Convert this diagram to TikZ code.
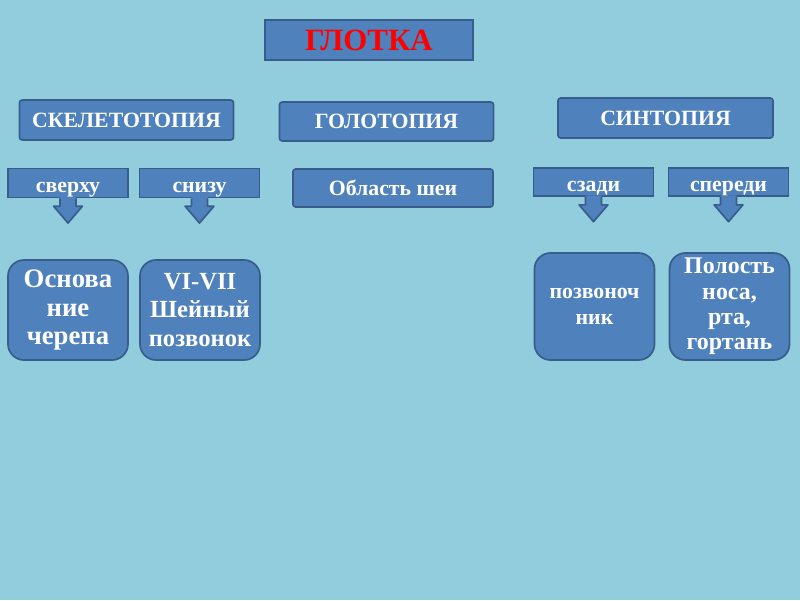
\documentclass[tikz,border=0pt]{standalone}
\usepackage{fontspec}
\setmainfont{Liberation Serif}
\usetikzlibrary{positioning}
\definecolor{bgblue}{RGB}{146,205,221}
\definecolor{boxblue}{RGB}{79,129,189}
\definecolor{edgeblue}{RGB}{56,93,138}
\tikzset{
    box/.style={draw=edgeblue, fill=boxblue, line width=1.2pt, text=white, align=center, inner sep=0pt,
        font=\bfseries\fontsize{15.5}{18}\selectfont}, % every blue box
    title/.style={box, text=red, font=\bfseries\fontsize{22}{26}\selectfont, minimum width=5.2cm, minimum height=1cm},
    header/.style={box, rounded corners=2pt, minimum width=5.35cm, minimum height=1cm},
    tag/.style={box, minimum width=3cm, minimum height=0.72cm, text height=13pt, text depth=0pt}, % box with arrow below
    leaf/.style={box, rounded corners=0.4cm, minimum width=3cm, font=\bfseries\fontsize{17}{18}\selectfont},
}

\begin{document}
\begin{tikzpicture}[x=0.025cm, y=-0.025cm]
    \fill[bgblue] (0,0) rectangle (800,600);
    \useasboundingbox (0,0) rectangle (800,600);

    \node[title] (pharynx) at (369,40) {ГЛОТКА};

    \node[header] (skel) at (126.5,120) {СКЕЛЕТОТОПИЯ};
    \node[header, minimum height=0.975cm] (holo) at (386.5,121.5) {ГОЛОТОПИЯ};
    \node[header, minimum width=5.375cm] (synt) at (665.5,118) {СИНТОПИЯ};

    \node[tag] (up) at (68,183) {сверху};
    \node[tag] (down) at (199.5,183) {снизу};
    \node[box, rounded corners=2pt, minimum width=5cm, minimum height=0.95cm] (neck) at (393,188) {Область шеи};
    \node[tag, minimum height=0.7cm] (back) at (593.5,182) {сзади};
    \node[tag, minimum height=0.7cm] (front) at (728.5,182) {спереди};

    % arrows under the tag boxes
    \foreach \n in {up, down, back, front} {
        \fill[boxblue] ([xshift=-0.2cm, yshift=1pt]\n.south) -- ++(0,-0.2cm-1pt) -- ++(-0.16cm,0)
            -- ++(0.36cm,-0.42cm) -- ++(0.36cm,0.42cm) -- ++(-0.16cm,0) -- ++(0,0.2cm+1pt) -- cycle;
        \draw[edgeblue, line width=1.2pt, line join=round] ([xshift=-0.2cm]\n.south) -- ++(0,-0.2cm) -- ++(-0.16cm,0)
            -- ++(0.36cm,-0.42cm) -- ++(0.36cm,0.42cm) -- ++(-0.16cm,0) -- ++(0,0.2cm);
    }

    \node[leaf, minimum height=2.5cm, font=\bfseries\fontsize{19}{20.5}\selectfont] (skull) at (68,310) {Основа\\ние\\черепа};
    \node[leaf, minimum height=2.5cm, font=\bfseries\fontsize{17.5}{20}\selectfont] (vert) at (200,310) {VI-VII\\Шейный\\позвонок};
    \node[leaf, minimum height=2.675cm, font=\bfseries\fontsize{15.5}{18}\selectfont] (spine) at (594.5,306.5) {позвоноч\\ник};
    \node[leaf, minimum height=2.675cm] (cavity) at (729.5,306.5) {Полость\\носа,\\рта,\\гортань};
\end{tikzpicture}
\end{document}
